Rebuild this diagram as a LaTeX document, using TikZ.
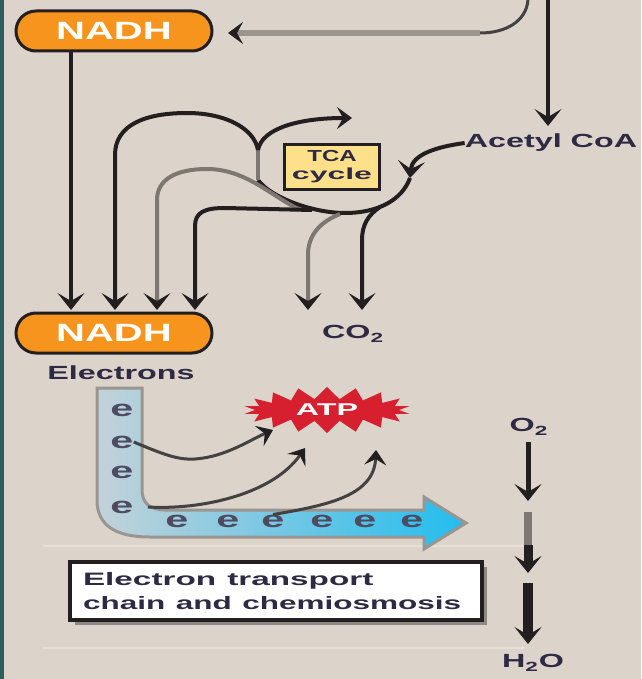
\documentclass[tikz,border=0pt]{standalone}
\usepackage{fontspec}
\setmainfont{Liberation Sans}
\usetikzlibrary{arrows.meta,shapes.symbols,shapes.misc,shadows}
\definecolor{bgc}{HTML}{DCD3CA}
\definecolor{tealstrip}{HTML}{2B5E5C}
\definecolor{nadhor}{HTML}{F7941D}
\definecolor{ink}{HTML}{231F20}
\definecolor{grayln}{HTML}{7E7670}
\definecolor{lightln}{HTML}{9C958F}
\definecolor{txt}{HTML}{2F2A44}
\definecolor{tcay}{HTML}{FFE08A}
\definecolor{atpred}{HTML}{D7202F}
\definecolor{chainl}{HTML}{C3D2D9}
\definecolor{chainr}{HTML}{22BDEF}
\definecolor{chainedge}{HTML}{9A9590}
\definecolor{sepln}{HTML}{E6E0D9}
\newcommand{\wtx}[2][1.7]{\scalebox{#1}[1]{#2}}
\tikzset{
  nadh/.style={draw=ink, line width=3pt, fill=nadhor, rounded corners=20pt,
    minimum width=196pt, minimum height=40pt, inner sep=0pt, text=white,
    font=\bfseries\fontsize{25}{27}\selectfont},
  lbl/.style={text=txt, font=\bfseries\fontsize{19}{21}\selectfont, inner sep=0pt},
  blk/.style={draw=ink, line width=4pt},
  gry/.style={draw=grayln, line width=4pt},
  thinc/.style={draw=ink!85, line width=3pt},
  arr/.style={-{Stealth[length=17pt,width=27pt,inset=8pt,color=ink]}},
  sarr/.style={-{Stealth[length=15pt,width=22pt,inset=6pt,color=ink]}},
  enode/.style={text=txt!85, font=\bfseries\fontsize{23}{23}\selectfont, inner sep=0pt},
}
\begin{document}
\begin{tikzpicture}[x=1pt,y=-1pt]
\useasboundingbox (0,0) rectangle (641,679);
\fill[bgc] (0,0) rectangle (641,679);
\fill[tealstrip] (0,0) rectangle (4,679);
% separator lines
\draw[sepln, line width=2pt] (43,546) -- (525,546);
\draw[sepln, line width=2pt] (43,648) -- (525,648);

% nodes
\node[nadh] (nadhT) at (114,31) {\wtx[1.6]{NADH}};
\node[nadh] (nadhB) at (114,333) {\wtx[1.6]{NADH}};
\node[lbl, anchor=center] (acetyl) at (551,143) {\wtx{Acetyl CoA}};
\node[draw=ink, line width=3.5pt, fill=tcay, minimum width=95pt, minimum height=45pt,
  inner sep=0pt, align=center, text=txt, font=\bfseries\fontsize{16}{20}\selectfont]
  (tca) at (332,167) {\wtx[1.5]{TCA}\\[-2pt]\wtx[2.0]{cycle}};
\node[lbl] (co2) at (353,334) {\wtx{CO\textsubscript{2}}};
\node[lbl] (elec) at (121,373) {\wtx{Electrons}};
\node[lbl] (o2) at (529,427) {\wtx{O\textsubscript{2}}};
\node[lbl] (h2o) at (533,663) {\wtx{H\textsubscript{2}O}};

% electron transport chain shape
\draw[draw=chainedge, line width=3pt, left color=chainl, right color=chainr]
  (97,388) -- (97,500) .. controls (97,525) and (115,537) .. (150,537) -- (424,537)
  -- (424,549) -- (466,523) -- (424,497) -- (424,510) -- (165,510)
  .. controls (150,510) and (142,503) .. (142,490) -- (142,388) -- cycle;
\foreach \y [count=\i] in {410,442,472,507}
  \node[enode] (ev\i) at (122,\y) {\wtx[1.8]{e}};
\foreach \x [count=\i] in {177,228,273,322,365,412}
  \node[enode] (eh\i) at (\x,521) {\wtx[1.8]{e}};

% ATP
\node[starburst, starburst points=18, starburst point height=12pt, random starburst=0,
  fill=atpred, draw=none, minimum width=168pt, minimum height=46pt, inner sep=0pt,
  text=white, font=\bfseries\fontsize{17}{19}\selectfont] (atp) at (327,410) {\wtx[1.9]{ATP}};

% label box
\node[draw=ink, line width=4pt, fill=white, minimum width=412pt, minimum height=58pt,
  text width=386pt, inner xsep=13pt, align=left, text=txt,
  font=\bfseries\fontsize{18}{24}\selectfont,
  drop shadow={shadow xshift=5pt, shadow yshift=-5pt, opacity=0.35, fill=black}]
  (etc) at (276,591) {\wtx[1.85]{Electron transport}\\\wtx[1.75]{chain and chemiosmosis}};

% coordinates
\coordinate (topin) at (528,0);
\coordinate (topbend) at (480,33);
\coordinate (toptip) at (228,33);
\coordinate (acin) at (548,0);
\coordinate (actip) at (548,126);
\coordinate (a1) at (71,310);
\coordinate (a2) at (115,310);
\coordinate (a3) at (157,310);
\coordinate (a4) at (195,310);
\coordinate (a5) at (308,310);
\coordinate (a6) at (362,310);
\coordinate (cl1) at (258,150);
\coordinate (cl2) at (258,180);
\coordinate (cyctip) at (352,118);
\coordinate (acetin) at (410,178);
\coordinate (cycbot) at (345,213);
\coordinate (bjoin) at (300,210);
\coordinate (cjoin) at (312,210);
\coordinate (w0) at (528,442);
\coordinate (w1) at (528,512);
\coordinate (w2) at (528,545);
\coordinate (w3) at (528,573);
\coordinate (w4) at (528,583);
\coordinate (w5) at (528,644);

% top feedback arrow to NADH
\draw[ink!85, line width=3pt] (topin) .. controls (526,22) and (505,33) .. (topbend);
\draw[lightln, line width=6pt, sarr] (topbend) -- (toptip);
\draw[blk, arr] (acin) -- (actip);
\draw[blk, arr] (nadhT.south -| a1) -- (a1);

% TCA cycle loop
\draw[blk, arr] (acetyl.west) .. controls (435,147) and (412,155) .. (acetin);
\draw[blk] (acetin) .. controls (402,200) and (378,213) .. (cycbot)
  .. controls (312,213) and (270,197) .. (cl2);
\draw[gry] (cl2) -- (cl1);
\draw[blk, sarr] (cl1) .. controls (262,128) and (300,118) .. (cyctip);
% branches to NADH
\draw[blk, arr] (cl1) .. controls (254,128) and (225,113) .. (187,113)
  .. controls (145,113) and (115,125) .. (115,155) -- (a2);
\draw[gry, arr] (bjoin) .. controls (270,195) and (245,169) .. (207,169)
  .. controls (175,169) and (157,180) .. (157,200) -- (a3);
\draw[blk, arr] (cjoin) -- (225,208) .. controls (205,208) and (195,212) .. (195,226) -- (a4);
% CO2 branches
\draw[gry, arr] (340,214) .. controls (320,222) and (308,235) .. (308,255) -- (a5);
\draw[blk, arr] (380,207) .. controls (368,215) and (362,225) .. (362,240) -- (a6);

% chain to ATP
\draw[thinc, sarr] (ev2.east) .. controls (165,455) and (178,460) .. (195,459)
  .. controls (225,457) and (250,440) .. (273,430);
\draw[thinc, sarr] (148,507) .. controls (200,510) and (272,495) .. (305,448);
\draw[thinc, sarr] (eh3.north) .. controls (330,505) and (374,495) .. (376,450);

% oxygen to water
\draw[ink, line width=5pt, arr] (w0) -- (528,501);
\draw[grayln, line width=8pt] (w1) -- (w2);
\draw[ink, line width=9pt, arr] (w2) -- (w3);
\draw[ink, line width=10pt, arr] (w4) -- (w5);
\end{tikzpicture}
\end{document}
